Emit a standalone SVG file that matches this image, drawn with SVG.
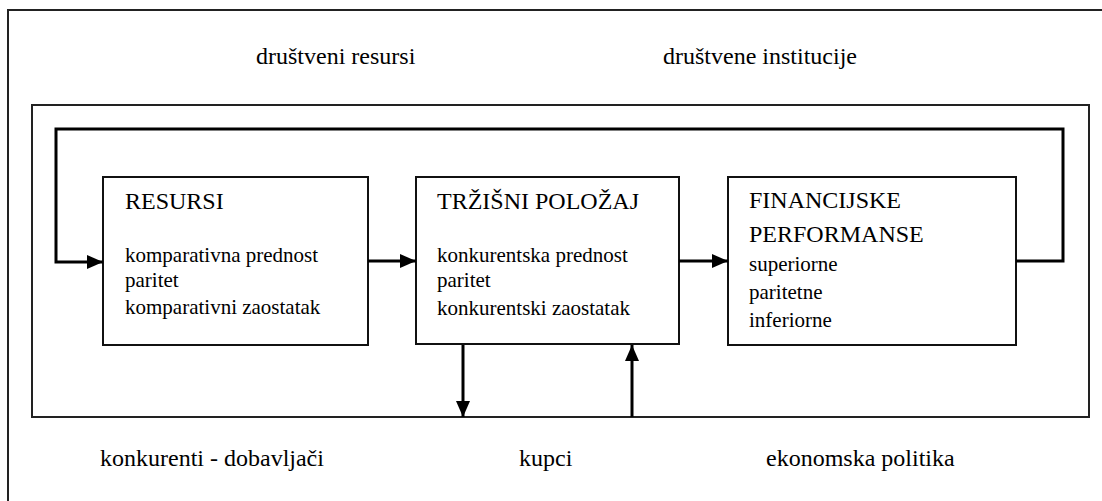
<svg xmlns="http://www.w3.org/2000/svg" width="1102" height="501" viewBox="0 0 1102 501">
<defs>
<marker id="arr" markerWidth="16" markerHeight="14" refX="16" refY="7" orient="auto" markerUnits="userSpaceOnUse">
<path d="M0,0 L16,7 L0,14 z" fill="#000"/>
</marker>
<style>
.frame{fill:none;stroke:#222;stroke-width:2}
.box{fill:#fff;stroke:#111;stroke-width:2}
.conn{fill:none;stroke:#000;stroke-width:3}
text{font-family:'Liberation Serif','Times New Roman',serif;fill:#000}
.lbl{font-size:24px}
.hd{font-size:24px}
.bd{font-size:21px}
</style>
</defs>
<rect width="1102" height="501" fill="#fff"/>
<g id="outer-frame">
<path class="frame" d="M8,501 V10 H1102"/>
</g>
<g id="environment">
<rect class="frame" x="32" y="105" width="1057" height="312"/>
<text class="lbl" x="256" y="64">društveni resursi</text>
<text class="lbl" x="663" y="64">društvene institucije</text>
<text class="lbl" x="100" y="466">konkurenti - dobavljači</text>
<text class="lbl" x="519" y="466">kupci</text>
<text class="lbl" x="766" y="466">ekonomska politika</text>
</g>
<g id="resursi">
<rect class="box" x="103" y="177" width="265" height="168"/>
<text class="hd" x="125" y="209">RESURSI</text>
<text class="bd" x="125" y="262">komparativna prednost</text>
<text class="bd" x="125" y="287">paritet</text>
<text class="bd" x="125" y="314">komparativni zaostatak</text>
</g>
<g id="trzisni-polozaj">
<rect class="box" x="416" y="177" width="263" height="167"/>
<text class="hd" x="437" y="209">TRŽIŠNI POLOŽAJ</text>
<text class="bd" x="437" y="262">konkurentska prednost</text>
<text class="bd" x="437" y="287">paritet</text>
<text class="bd" x="437" y="315">konkurentski zaostatak</text>
</g>
<g id="financijske-performanse">
<rect class="box" x="728" y="177" width="288" height="168"/>
<text class="hd" x="749" y="208">FINANCIJSKE</text>
<text class="hd" x="749" y="242">PERFORMANSE</text>
<text class="bd" x="749" y="271">superiorne</text>
<text class="bd" x="749" y="299">paritetne</text>
<text class="bd" x="749" y="327">inferiorne</text>
</g>
<g id="connectors">
<path class="conn" d="M1016,261 H1063 V129 H56 V262 H103" marker-end="url(#arr)"/>
<path class="conn" d="M368,261 H416" marker-end="url(#arr)"/>
<path class="conn" d="M679,261 H728" marker-end="url(#arr)"/>
<path class="conn" d="M463,345 V417" marker-end="url(#arr)"/>
<path class="conn" d="M632,417 V345" marker-end="url(#arr)"/>
</g>
</svg>
